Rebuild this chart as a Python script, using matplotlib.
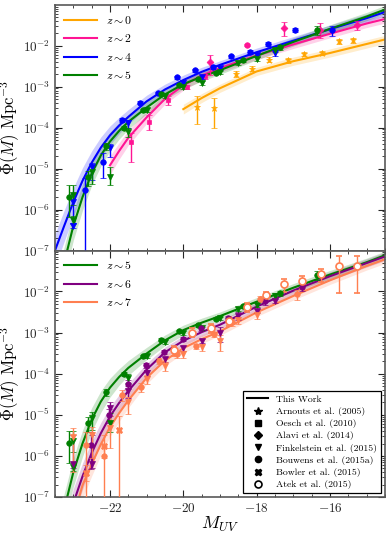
import numpy as np
import matplotlib
matplotlib.use('Agg')
import matplotlib.pyplot as plt
from matplotlib.lines import Line2D

plt.rcParams['font.family'] = 'serif'
plt.rcParams['font.serif'] = ['cmr10']
plt.rcParams['mathtext.fontset'] = 'cm'
plt.rcParams['axes.formatter.use_mathtext'] = True

# ---- model curves (log10 phi) on a common M grid ----
M_grid = [-23.5, -23.25, -23.0, -22.75, -22.5, -22.25, -22.0, -21.75, -21.5,
          -21.0, -20.5, -20.0, -19.5, -19.0, -18.0, -17.0, -16.0, -15.0, -14.5]
nan = np.nan
curve_z0 = [nan, nan, nan, nan, nan, nan, nan, nan, nan,
            nan, nan, -3.55, -3.28, -3.04, -2.63, -2.38, -2.18, -1.96, -1.85]
curve_z2 = [nan, nan, nan, nan, nan, nan, -4.92, -4.57, -4.25,
            -3.75, -3.30, -2.97, -2.73, -2.55, -2.24, -1.97, -1.71, -1.46, -1.35]
curve_z4 = [-7.0, -6.4, -5.82, -5.30, -4.86, -4.49, -4.19, -3.95, -3.74,
            -3.36, -3.07, -2.84, -2.64, -2.47, -2.16, -1.88, -1.60, -1.33, -1.18]
curve_z5 = [-8.3, -7.3, -6.4, -5.70, -5.12, -4.68, -4.34, -4.08, -3.86,
            -3.51, -3.19, -2.94, -2.76, -2.60, -2.25, -1.91, -1.59, -1.29, -1.12]
curve_z6 = [-9.0, -8.0, -7.15, -6.50, -5.93, -5.45, -5.04, -4.71, -4.42,
            -3.90, -3.48, -3.20, -2.99, -2.81, -2.37, -1.98, -1.63, -1.31, -1.15]
curve_z7 = [-9.5, -8.4, -7.5, -6.72, -6.20, -5.72, -5.30, -4.96, -4.65,
            -4.10, -3.68, -3.38, -3.16, -2.97, -2.51, -2.11, -1.73, -1.38, -1.22]
band_dex = [0.4, 0.38, 0.35, 0.32, 0.29, 0.26, 0.23, 0.2, 0.18,
            0.15, 0.13, 0.12, 0.11, 0.1, 0.1, 0.1, 0.1, 0.1, 0.1]

# ---- data points: M, log10 phi, lower / upper error (dex) ----
# z~0 Arnouts
z0_arn_M = [-19.62, -19.16, -18.57, -18.12, -17.66, -17.15, -16.70, -16.23, -15.75, -15.37]
z0_arn_phi = [-3.49, -3.51, -2.69, -2.56, -2.34, -2.36, -2.20, -2.18, -1.89, -1.87]
z0_arn_lo = [0.42, 0.49, 0.08, 0.07, 0.07, 0.07, 0.06, 0.06, 0.07, 0.07]
z0_arn_hi = [0.26, 0.23, 0.07, 0.06, 0.06, 0.06, 0.05, 0.05, 0.06, 0.06]
# z~2 Oesch, Alavi, Bouwens
z2_oes_M = [-21.43, -20.94, -20.43, -19.91, -19.41]
z2_oes_phi = [-4.36, -3.86, -3.32, -3.00, -2.75]
z2_oes_lo = [0.48, 0.2, 0.12, 0.06, 0.06]
z2_oes_hi = [0.22, 0.17, 0.1, 0.05, 0.05]
z2_ala_M = [-19.27, -17.25, -16.27, -15.27]
z2_ala_phi = [-2.41, -1.58, -1.61, -1.49]
z2_ala_lo = [0.30, 0.19, 0.2, 0.13]
z2_ala_hi = [0.19, 0.15, 0.16, 0.1]
z2_bou_M = [-18.27]
z2_bou_phi = [-1.99]
z2_bou_lo = [0.03]
z2_bou_hi = [0.03]
# z~4 Bouwens, Finkelstein
z4_bou_M = [-22.68, -22.18, -21.68, -21.18, -20.68, -20.18, -19.68, -19.18, -18.70,
            -18.18, -17.68, -16.94, -15.94]
z4_bou_phi = [-5.53, -4.84, -3.81, -3.39, -3.16, -2.77, -2.60, -2.52, -2.26,
              -2.15, -1.95, -1.61, -1.61]
z4_bou_lo = [3.0, 0.38, 0.06, 0.04, 0.04, 0.04, 0.04, 0.04, 0.05, 0.05, 0.06, 0.06, 0.15]
z4_bou_hi = [0.3, 0.22, 0.05, 0.04, 0.04, 0.04, 0.04, 0.04, 0.04, 0.05, 0.05, 0.05, 0.1]
z4_fin_M = [-23.0, -23.0, -22.5, -22.0, -21.5, -20.0, -19.5, -19.0, -18.0, -17.5]
z4_fin_phi = [-5.82, -6.39, -4.96, -4.51, -3.90, -2.90, -2.76, -2.55, -2.22, -2.17]
z4_fin_lo = [0.5, 0.05, 0.32, 0.2, 0.1, 0.05, 0.05, 0.05, 0.06, 0.08]
z4_fin_hi = [0.2, 0.05, 0.1, 0.1, 0.08, 0.05, 0.05, 0.05, 0.05, 0.07]
# z~5 Bouwens, Finkelstein
z5_bou_M = [-23.11, -22.61, -22.11, -21.61, -21.11, -20.61, -20.11, -19.61, -19.11,
            -18.36, -17.36, -16.36]
z5_bou_phi = [-5.69, -5.21, -4.45, -4.00, -3.58, -3.17, -2.97, -2.82, -2.66,
              -2.36, -2.04, -1.61]
z5_bou_lo = [0.48, 0.22, 0.1, 0.06, 0.05, 0.04, 0.04, 0.04, 0.04, 0.05, 0.06, 0.12]
z5_bou_hi = [0.3, 0.15, 0.08, 0.05, 0.04, 0.04, 0.04, 0.04, 0.04, 0.04, 0.05, 0.1]
z5_fin_M = [-23.0, -23.0, -22.5, -22.0, -21.5, -21.0, -20.5, -20.0, -19.5, -19.0,
            -18.5, -18.0, -17.5]
z5_fin_phi = [-5.65, -6.26, -5.08, -5.20, -4.10, -3.57, -3.24, -3.01, -2.90, -2.65,
              -2.42, -2.32, -2.10]
z5_fin_lo = [0.25, 0.1, 0.3, 0.21, 0.12, 0.06, 0.05, 0.05, 0.05, 0.05, 0.05, 0.05, 0.06]
z5_fin_hi = [0.25, 0.1, 0.15, 0.24, 0.1, 0.05, 0.05, 0.04, 0.04, 0.04, 0.04, 0.04, 0.05]
# z~6 Bouwens, Finkelstein
z6_bou_M = [-22.52, -22.02, -21.52, -21.02, -20.52, -20.02, -19.52, -18.77, -17.77, -16.77]
z6_bou_phi = [-5.73, -5.00, -4.26, -3.80, -3.47, -3.16, -2.90, -2.65, -2.24, -1.90]
z6_bou_lo = [0.6, 0.2, 0.12, 0.07, 0.05, 0.05, 0.06, 0.06, 0.08, 0.1]
z6_bou_hi = [0.3, 0.15, 0.1, 0.06, 0.05, 0.05, 0.05, 0.05, 0.07, 0.08]
z6_fin_M = [-23.0, -22.5, -22.0, -21.5, -21.0, -20.5, -20.0, -19.5, -19.0, -18.5, -18.0, -17.5]
z6_fin_phi = [-6.19, -6.19, -4.83, -4.43, -3.98, -3.65, -3.38, -3.20, -3.02, -2.59, -2.47, -2.23]
z6_fin_lo = [0.1, 0.1, 0.2, 0.15, 0.08, 0.07, 0.06, 0.06, 0.2, 0.1, 0.06, 0.06]
z6_fin_hi = [0.7, 0.7, 0.15, 0.12, 0.07, 0.06, 0.05, 0.05, 0.15, 0.08, 0.05, 0.05]
# z~7 Bouwens, Finkelstein, Bowler, Atek
z7_bou_M = [-22.66, -22.16, -21.66, -21.16, -20.66, -20.16, -19.66, -19.16, -18.66,
            -17.91, -16.91]
z7_bou_phi = [-5.73, -6.00, -4.51, -4.33, -3.68, -3.53, -3.33, -3.04, -2.75, -2.18, -2.07]
z7_bou_lo = [3.0, 3.0, 0.15, 0.12, 0.08, 0.08, 0.07, 0.07, 0.08, 0.08, 0.15]
z7_bou_hi = [0.3, 0.25, 0.12, 0.1, 0.07, 0.06, 0.06, 0.06, 0.07, 0.07, 0.1]
z7_fin_M = [-23.0, -22.5, -22.0, -21.5, -21.0, -20.5, -20.0, -19.5, -19.0, -18.5, -18.0]
z7_fin_phi = [-5.53, -5.50, -5.32, -4.69, -4.14, -3.81, -3.53, -3.36, -3.20, -2.70, -2.58]
z7_fin_lo = [0.85, 0.55, 0.5, 0.3, 0.12, 0.12, 0.1, 0.1, 0.25, 0.1, 0.1]
z7_fin_hi = [0.2, 0.2, 0.3, 0.12, 0.1, 0.1, 0.08, 0.08, 0.15, 0.08, 0.08]
z7_bow_M = [-22.66, -22.16, -21.76]
z7_bow_phi = [-6.42, -5.77, -5.38]
z7_bow_lo = [0.2, 0.28, 3.0]
z7_bow_hi = [0.2, 0.28, 0.35]
z7_ate_M = [-20.25, -19.75, -19.25, -18.75, -18.25, -17.75, -17.25, -16.75, -16.25,
            -15.75, -15.25]
z7_ate_phi = [-3.42, -3.00, -2.90, -2.73, -2.37, -2.09, -1.81, -1.74, -1.58, -1.39, -1.39]
z7_ate_lo = [0.15, 0.12, 0.12, 0.12, 0.12, 0.1, 0.2, 0.2, 0.2, 0.66, 0.66]
z7_ate_hi = [0.1, 0.1, 0.1, 0.1, 0.1, 0.08, 0.12, 0.12, 0.12, 0.26, 0.26]

c_z0, c_z2, c_z4, c_z5, c_z6, c_z7 = 'orange', '#ff1493', 'blue', 'green', 'purple', 'coral'


def curve(ax, logphi, color, label):
    lp = np.array(logphi, float)
    bd = np.array(band_dex)
    ax.fill_between(M_grid, 10**(lp - bd), 10**(lp + bd), color=color, alpha=0.2, lw=0, zorder=1)
    ax.plot(M_grid, 10**lp, color=color, lw=1.5, label=label, zorder=2)


def points(ax, M, phi, lo, hi, color, marker, ms=4, open_=False):
    phi = np.array(phi)
    y = 10**phi
    yerr = [y - 10**(phi - np.array(lo)), 10**(phi + np.array(hi)) - y]
    ax.errorbar(M, y, yerr=yerr, fmt=marker, color=color, ms=ms,
                mfc='white' if open_ else color, mec=color, mew=1.2 if open_ else 0.5,
                capsize=2, elinewidth=1, capthick=1, zorder=4)


fig = plt.figure(figsize=(3.9, 5.37), dpi=100)
ax1 = fig.add_axes([0.141, 0.5335, 0.846, 0.4575])
ax2 = fig.add_axes([0.141, 0.0745, 0.846, 0.459])

# upper panel
curve(ax1, curve_z0, c_z0, r'$z\sim0$')
curve(ax1, curve_z2, c_z2, r'$z\sim2$')
curve(ax1, curve_z4, c_z4, r'$z\sim4$')
curve(ax1, curve_z5, c_z5, r'$z\sim5$')
points(ax1, z0_arn_M, z0_arn_phi, z0_arn_lo, z0_arn_hi, c_z0, '*', ms=5)
points(ax1, z2_oes_M, z2_oes_phi, z2_oes_lo, z2_oes_hi, c_z2, 's', ms=3.5)
points(ax1, z2_ala_M, z2_ala_phi, z2_ala_lo, z2_ala_hi, c_z2, 'D', ms=3.5)
points(ax1, z2_bou_M, z2_bou_phi, z2_bou_lo, z2_bou_hi, c_z2, 'o')
points(ax1, z4_bou_M, z4_bou_phi, z4_bou_lo, z4_bou_hi, c_z4, 'o')
points(ax1, z4_fin_M, z4_fin_phi, z4_fin_lo, z4_fin_hi, c_z4, 'v')
points(ax1, z5_bou_M, z5_bou_phi, z5_bou_lo, z5_bou_hi, c_z5, 'o')
points(ax1, z5_fin_M, z5_fin_phi, z5_fin_lo, z5_fin_hi, c_z5, 'v')

# lower panel
curve(ax2, curve_z5, c_z5, r'$z\sim5$')
curve(ax2, curve_z6, c_z6, r'$z\sim6$')
curve(ax2, curve_z7, c_z7, r'$z\sim7$')
points(ax2, z5_bou_M, z5_bou_phi, z5_bou_lo, z5_bou_hi, c_z5, 'o')
points(ax2, z5_fin_M, z5_fin_phi, z5_fin_lo, z5_fin_hi, c_z5, 'v')
points(ax2, z6_bou_M, z6_bou_phi, z6_bou_lo, z6_bou_hi, c_z6, 'o')
points(ax2, z6_fin_M, z6_fin_phi, z6_fin_lo, z6_fin_hi, c_z6, 'v')
points(ax2, z7_bou_M, z7_bou_phi, z7_bou_lo, z7_bou_hi, c_z7, 'o')
points(ax2, z7_fin_M, z7_fin_phi, z7_fin_lo, z7_fin_hi, c_z7, 'v')
points(ax2, z7_bow_M, z7_bow_phi, z7_bow_lo, z7_bow_hi, c_z7, 'X', ms=4.5)
points(ax2, z7_ate_M, z7_ate_phi, z7_ate_lo, z7_ate_hi, c_z7, 'o', ms=5, open_=True)

for ax in (ax1, ax2):
    ax.set_yscale('log')
    ax.set_xlim(-23.5, -14.5)
    ax.set_ylim(1e-7, 0.099)
    ax.set_xticks([-22, -20, -18, -16])
    ax.set_xticks(np.arange(-23.5, -14.4, 0.5), minor=True)
    ax.tick_params(which='both', direction='in', top=True, right=True, labelsize=9.5, colors='0.15')
    ax.tick_params(which='major', length=5)
    ax.tick_params(which='minor', length=2.5)
    for s in ax.spines.values():
        s.set_color('0.35')
        s.set_linewidth(1.2)
    ax.set_ylabel(r'$\Phi(M)\ \mathrm{Mpc}^{-3}$', fontsize=12)
    ax.yaxis.set_label_coords(-0.1, 0.5)
    ax.legend(loc='upper left', frameon=False, fontsize=8.5, handlelength=2.8,
              borderaxespad=0.35, labelspacing=0.55)

ax1.tick_params(labelbottom=False)
ax2.set_xlabel(r'$M_{UV}$', fontsize=13, labelpad=0)

handles = [Line2D([], [], color='k', lw=1.5),
           Line2D([], [], color='k', marker='*', ls='', ms=6),
           Line2D([], [], color='k', marker='s', ls='', ms=4),
           Line2D([], [], color='k', marker='D', ls='', ms=4),
           Line2D([], [], color='k', marker='v', ls='', ms=5),
           Line2D([], [], color='k', marker='o', ls='', ms=4.5),
           Line2D([], [], color='k', marker='X', ls='', ms=5),
           Line2D([], [], color='k', marker='o', ls='', ms=5, mfc='white', mew=1.2)]
labels = ['This Work', 'Arnouts et al. (2005)', 'Oesch et al. (2010)', 'Alavi et al. (2014)',
          'Finkelstein et al. (2015)', 'Bouwens et al. (2015a)', 'Bowler et al. (2015)',
          'Atek et al. (2015)']
leg2 = ax2.get_legend()
ax2.add_artist(leg2)
lg = ax2.legend(handles, labels, loc='lower right', fontsize=7, frameon=True, fancybox=False,
                edgecolor='k', framealpha=1, borderaxespad=0.4, handlelength=2.2,
                labelspacing=0.33)
lg.get_frame().set_linewidth(0.9)

fig.savefig('out.png', dpi=100)
